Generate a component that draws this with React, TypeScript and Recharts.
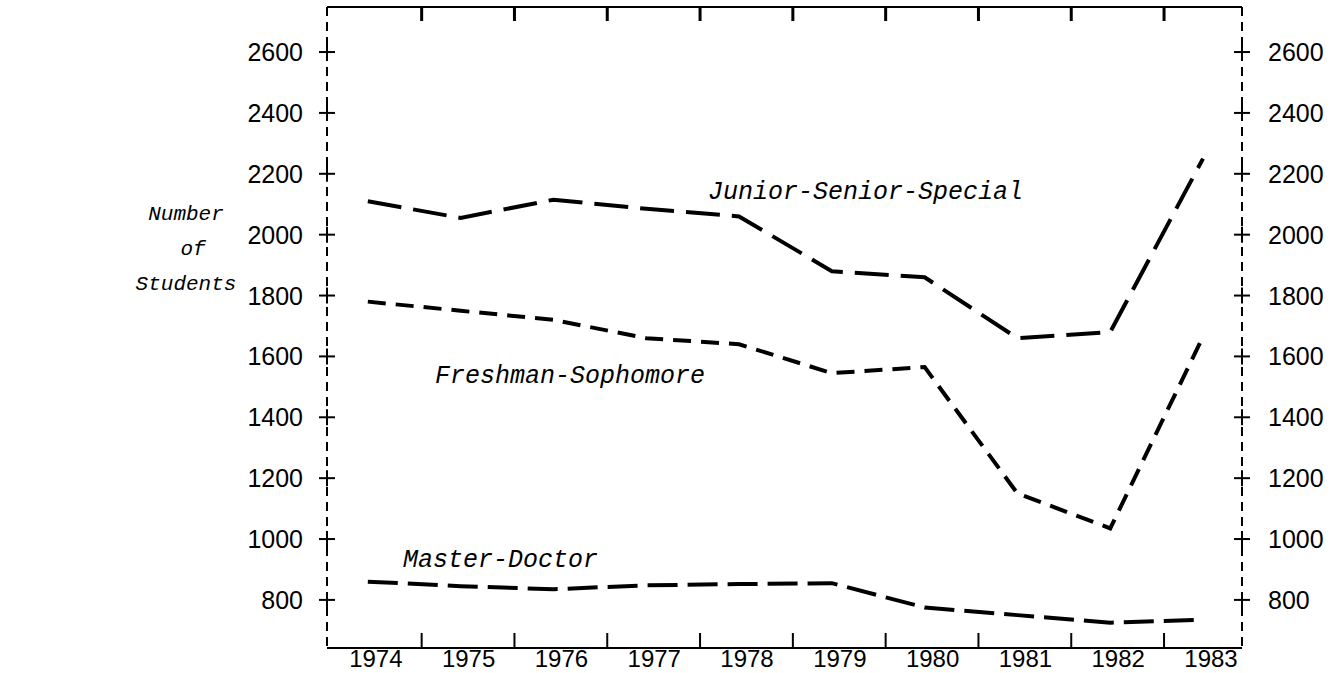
import React from "react";
import { LineChart, Line, XAxis, YAxis } from "recharts";

const years = [1974, 1975, 1976, 1977, 1978, 1979, 1980, 1981, 1982, 1983];
const juniorSeniorSpecial = [2110, 2055, 2115, 2085, 2060, 1880, 1860, 1660, 1680, 2250];
const freshmanSophomore = [1780, 1750, 1720, 1660, 1640, 1545, 1565, 1150, 1035, 1665];
const masterDoctor = [860, 845, 835, 848, 852, 855, 775, 750, 725, 735];
const yTicks = [800, 1000, 1200, 1400, 1600, 1800, 2000, 2200, 2400, 2600];
const betweenTicks = years.slice(0, -1).map((y) => y + 0.58);

const data = years.map((year, i) => ({
  year,
  js: juniorSeniorSpecial[i],
  fs: freshmanSophomore[i],
  md: masterDoctor[i],
}));

const SANS = "Liberation Sans";
const MONO = "Liberation Mono";
const Y_DOMAIN: [number, number] = [642, 2748];
const X_DOMAIN: [number, number] = [1973.56, 1983.42];

const W = 1344;
const H = 673;
const MARGIN = { top: 0, right: 22, bottom: 0, left: 247 };
const Y_AXIS_W = 80;
const TOP_AXIS_H = 7;
const PLOT_LEFT = MARGIN.left + Y_AXIS_W;
const PLOT_RIGHT = W - MARGIN.right - Y_AXIS_W;
const PLOT_TOP = MARGIN.top + TOP_AXIS_H;
const xScale = (v: number) =>
  PLOT_LEFT + ((v - X_DOMAIN[0]) / (X_DOMAIN[1] - X_DOMAIN[0])) * (PLOT_RIGHT - PLOT_LEFT);

const LeftTick = (props: any) => {
  const { x, y, payload } = props;
  return (
    <g>
      <line x1={x - 8} x2={x + 8} y1={y} y2={y} stroke="#000" strokeWidth={2} />
      <line x1={x} x2={x} y1={y - 8} y2={y + 8} stroke="#000" strokeWidth={2} />
      <text x={x - 24} y={y + 9} textAnchor="end" fontFamily={SANS} fontSize={25} fill="#000">
        {payload.value}
      </text>
    </g>
  );
};

const RightTick = (props: any) => {
  const { x, y, payload } = props;
  return (
    <g>
      <line x1={x - 8} x2={x + 8} y1={y} y2={y} stroke="#000" strokeWidth={2} />
      <line x1={x} x2={x} y1={y - 8} y2={y + 8} stroke="#000" strokeWidth={2} />
      <text x={x + 26} y={y + 9} textAnchor="start" fontFamily={SANS} fontSize={25} fill="#000">
        {payload.value}
      </text>
    </g>
  );
};

const BottomTick = (props: any) => {
  const { x, y, payload } = props;
  if (Number.isInteger(payload.value)) {
    return (
      <text x={x + 8} y={y + 19} textAnchor="middle" fontFamily={SANS} fontSize={24} fill="#000">
        {payload.value}
      </text>
    );
  }
  return <line x1={x} x2={x} y1={y} y2={y - 15} stroke="#000" strokeWidth={2} />;
};

export default function App() {
  return (
    <div style={{ position: "absolute", left: 0, top: 0, width: W, height: H, background: "#fff" }}>
      <LineChart width={W} height={H} data={data} margin={MARGIN}>
        <XAxis
          xAxisId="bottom"
          dataKey="year"
          type="number"
          domain={X_DOMAIN}
          allowDataOverflow
          ticks={[...years, ...betweenTicks]}
          interval={0}
          tickSize={0}
          tickMargin={0}
          tickLine={false}
          height={25}
          axisLine={{ stroke: "#000", strokeWidth: 2 }}
          tick={BottomTick}
        />
        <XAxis
          xAxisId="top"
          orientation="top"
          dataKey="year"
          type="number"
          domain={X_DOMAIN}
          allowDataOverflow
          tick={false}
          tickLine={false}
          height={TOP_AXIS_H}
          axisLine={{ stroke: "#000", strokeWidth: 2 }}
        />
        <YAxis
          yAxisId="left"
          orientation="left"
          type="number"
          domain={Y_DOMAIN}
          allowDataOverflow
          ticks={yTicks}
          interval={0}
          width={Y_AXIS_W}
          tickSize={0}
          tickMargin={0}
          tickLine={false}
          axisLine={{ stroke: "#000", strokeWidth: 2, strokeDasharray: "9 6" }}
          tick={LeftTick}
        />
        <YAxis
          yAxisId="right"
          orientation="right"
          type="number"
          domain={Y_DOMAIN}
          allowDataOverflow
          ticks={yTicks}
          interval={0}
          width={Y_AXIS_W}
          tickSize={0}
          tickMargin={0}
          tickLine={false}
          axisLine={{ stroke: "#000", strokeWidth: 2, strokeDasharray: "9 6" }}
          tick={RightTick}
        />
        <Line
          xAxisId="bottom"
          yAxisId="left"
          type="linear"
          dataKey="js"
          stroke="#000"
          strokeWidth={4}
          strokeDasharray="34 12"
          dot={false}
          activeDot={false}
          isAnimationActive={false}
        />
        <Line
          xAxisId="bottom"
          yAxisId="left"
          type="linear"
          dataKey="fs"
          stroke="#000"
          strokeWidth={4}
          strokeDasharray="18 10"
          dot={false}
          activeDot={false}
          isAnimationActive={false}
        />
        <Line
          xAxisId="bottom"
          yAxisId="left"
          type="linear"
          dataKey="md"
          stroke="#000"
          strokeWidth={4}
          strokeDasharray="30 10"
          dot={false}
          activeDot={false}
          isAnimationActive={false}
        />
      </LineChart>
      <svg width={W} height={H} style={{ position: "absolute", left: 0, top: 0, pointerEvents: "none" }}>
        {betweenTicks.map((t) => (
          <rect
            key={t}
            x={xScale(t) - 1.5}
            y={PLOT_TOP}
            width={3}
            height={14}
            fill="#000"
          />
        ))}
        <g fontFamily={MONO} fontStyle="italic" fill="#000">
          <text x={186} y={220} fontSize={21} textAnchor="middle">Number</text>
          <text x={193} y={255} fontSize={21} textAnchor="middle">of</text>
          <text x={186} y={290} fontSize={21} textAnchor="middle">Students</text>
          <text x={708} y={199} fontSize={25}>Junior-Senior-Special</text>
          <text x={435} y={383} fontSize={25}>Freshman-Sophomore</text>
          <text x={403} y={567} fontSize={25}>Master-Doctor</text>
        </g>
      </svg>
    </div>
  );
}
